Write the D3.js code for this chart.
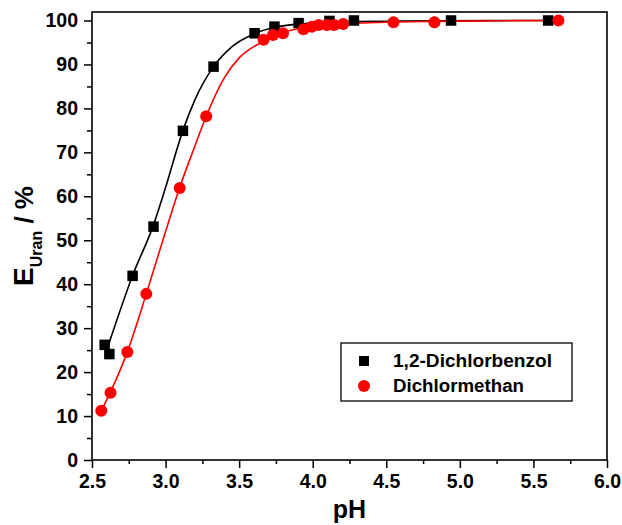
<!DOCTYPE html>
<html>
<head>
<meta charset="utf-8">
<script src="https://cdn.jsdelivr.net/npm/d3@7"></script>
<style>
  body { margin: 0; background: #fff; }
  svg { font-family: "Liberation Sans", Arial, sans-serif; font-weight: bold; }
</style>
</head>
<body>
<svg width="622" height="525"></svg>
<script>
var margin = {top: 12, right: 15, bottom: 65, left: 92};
var width = 622 - margin.left - margin.right;
var height = 460 - margin.top;

// measured points
var benzolPH = [2.586, 2.618, 2.776, 2.918, 3.118, 3.326, 3.605, 3.74, 3.904, 4.114, 4.28, 4.94, 5.60];
var benzolE  = [26.2, 24.1, 41.9, 53.1, 74.9, 89.5, 97.1, 98.6, 99.4, 99.9, 100, 100, 100];
var methanPH = [2.563, 2.626, 2.74, 2.869, 3.096, 3.276, 3.666, 3.73, 3.798, 3.937, 3.994, 4.04, 4.097, 4.146, 4.207, 4.549, 4.827, 5.67];
var methanE  = [11.2, 15.3, 24.6, 37.8, 61.9, 78.2, 95.6, 96.7, 97.1, 98.0, 98.6, 99.0, 99.0, 99.0, 99.2, 99.6, 99.6, 100];

// fitted curves
var benzolFitPH = [2.615, 2.776, 2.918, 3.0, 3.118, 3.2, 3.326, 3.45, 3.605, 3.75, 3.9, 4.2, 4.6, 5.6];
var benzolFitE  = [26.5, 42, 53.5, 62, 75, 82, 89.5, 94, 97, 98.5, 99.2, 99.7, 99.9, 100];
var methanFitPH = [2.563, 2.626, 2.74, 2.869, 3.0, 3.096, 3.2, 3.276, 3.4, 3.5, 3.65, 3.8, 4.0, 4.3, 4.8, 5.67];
var methanFitE  = [11.2, 15.5, 24.6, 37.8, 52, 62, 71.5, 78.2, 87, 91.5, 95, 97.3, 98.6, 99.4, 99.8, 100];

var xTicks = [2.5, 3.0, 3.5, 4.0, 4.5, 5.0, 5.5, 6.0];
var yTicks = [0, 10, 20, 30, 40, 50, 60, 70, 80, 90, 100];
var seriesNames = ["1,2-Dichlorbenzol", "Dichlormethan"];
var seriesColors = ["#000000", "#ff0000"];
var legendTextWidth = [159, 131];

var svg = d3.select("svg");
var g = svg.append("g").attr("transform", "translate(" + margin.left + "," + margin.top + ")");

var x = d3.scaleLinear().domain([2.5, 6.0]).range([0, width]);
var y = d3.scaleLinear().domain([0, 100]).range([height, 8.5]);

// frame
g.append("rect")
    .attr("x", 0).attr("y", 0)
    .attr("width", width).attr("height", height)
    .attr("fill", "none").attr("stroke", "#000").attr("stroke-width", 1.6);

// x axis
var xMinor = d3.range(2.75, 6.0, 0.5);
g.append("g").attr("transform", "translate(0," + height + ")")
    .call(d3.axisBottom(x).tickValues(xMinor).tickSize(4).tickFormat(""))
    .call(function(a) { a.select(".domain").remove(); a.selectAll("line").attr("stroke-width", 1.5); });
var xAxis = g.append("g").attr("transform", "translate(0," + height + ")")
    .call(d3.axisBottom(x).tickValues(xTicks).tickSize(8).tickPadding(6).tickFormat(d3.format(".1f")));
xAxis.select(".domain").remove();
xAxis.selectAll("line").attr("stroke-width", 1.5);
xAxis.selectAll("text").attr("font-size", 19.5).attr("font-family", null).attr("font-weight", "bold").attr("fill", "#000");

// y axis
var yMinor = d3.range(5, 100, 10);
g.append("g")
    .call(d3.axisLeft(y).tickValues(yMinor).tickSize(5).tickFormat(""))
    .call(function(a) { a.select(".domain").remove(); a.selectAll("line").attr("stroke-width", 1.5); });
var yAxis = g.append("g")
    .call(d3.axisLeft(y).tickValues(yTicks).tickSize(8).tickPadding(6));
yAxis.select(".domain").remove();
yAxis.selectAll("line").attr("stroke-width", 1.5);
yAxis.selectAll("text").attr("font-size", 19.5).attr("font-family", null).attr("font-weight", "bold").attr("fill", "#000");

// axis titles
svg.append("text")
    .attr("x", margin.left + width / 2).attr("y", 518)
    .attr("text-anchor", "middle").attr("font-size", 25)
    .text("pH");

var yTitle = svg.append("text")
    .attr("transform", "translate(33,236) rotate(-90)")
    .attr("text-anchor", "middle");
yTitle.append("tspan").attr("font-size", 28).text("E");
yTitle.append("tspan").attr("font-size", 16).attr("dy", 9).text("Uran");
yTitle.append("tspan").attr("font-size", 26).attr("dy", -9).text(" / %");

// curves
var line = d3.line()
    .x(function(d) { return x(d[0]); })
    .y(function(d) { return y(d[1]); })
    .curve(d3.curveMonotoneX);

var fits = [d3.zip(benzolFitPH, benzolFitE), d3.zip(methanFitPH, methanFitE)];
fits.forEach(function(pts, i) {
    g.append("path")
        .attr("d", line(pts))
        .attr("fill", "none")
        .attr("stroke", seriesColors[i])
        .attr("stroke-width", 1.6);
});

// markers
var sq = 10.5;
g.append("g").selectAll("rect")
    .data(d3.zip(benzolPH, benzolE))
    .enter().append("rect")
    .attr("x", function(d) { return x(d[0]) - sq / 2; })
    .attr("y", function(d) { return y(d[1]) - sq / 2; })
    .attr("width", sq).attr("height", sq)
    .attr("fill", seriesColors[0]);

g.append("g").selectAll("circle")
    .data(d3.zip(methanPH, methanE))
    .enter().append("circle")
    .attr("cx", function(d) { return x(d[0]); })
    .attr("cy", function(d) { return y(d[1]); })
    .attr("r", 6)
    .attr("fill", seriesColors[1]);

// legend
var legend = svg.append("g").attr("transform", "translate(341,343)");
legend.append("rect")
    .attr("width", 231).attr("height", 58)
    .attr("fill", "#fff").attr("stroke", "#000").attr("stroke-width", 1.3);
seriesNames.forEach(function(name, i) {
    var cy = 18 + i * 25;
    if (i === 0) {
        legend.append("rect").attr("x", 18).attr("y", cy - 5).attr("width", 10).attr("height", 10)
            .attr("fill", seriesColors[i]);
    } else {
        legend.append("circle").attr("cx", 23).attr("cy", cy).attr("r", 6).attr("fill", seriesColors[i]);
    }
    legend.append("text")
        .attr("x", 52).attr("y", cy + 6)
        .attr("font-size", 17.5)
        .attr("textLength", legendTextWidth[i])
        .attr("lengthAdjust", "spacingAndGlyphs")
        .text(name);
});
</script>
</body>
</html>
